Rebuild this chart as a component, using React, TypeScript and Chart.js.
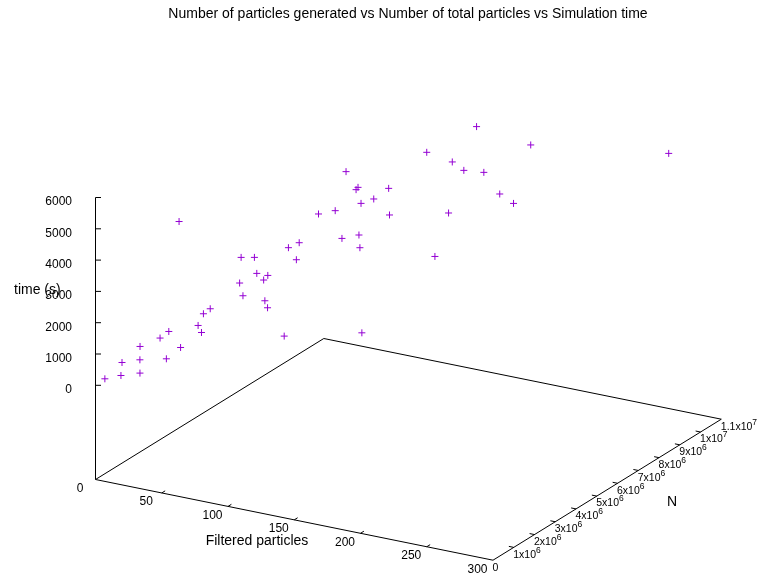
import React, { useEffect, useRef } from "react";
import { Chart, registerables } from "chart.js";

Chart.register(...registerables);

const TITLE = "Number of particles generated vs Number of total particles vs Simulation time";
const X_LABEL = "Filtered particles";
const N_LABEL = "N";
const Z_LABEL = "time (s)";

// Filtered particles (x axis)
const filteredParticles = [
  3, 12, 7, 24, 18, 12, 21, 35, 24, 20, 39, 40, 46, 39, 41, 48, 38, 56, 46, 55,
  63, 73, 63, 78, 102, 64, 75, 69, 69, 78, 95, 68, 82, 83, 105, 112, 92, 152, 98, 103,
  116, 112, 165, 154, 133, 145, 133, 159, 179, 193, 177, 273,
];

// Total particles N (y axis)
const totalParticles = [
  260000, 460000, 830000, 610000, 990000, 1380000, 1770000, 1180000, 2000000, 2750000,
  1610000, 2390000, 2170000, 2710000, 2910000, 3880000, 4590000, 3530000, 4720000, 4260000,
  4080000, 3500000, 4280000, 3310000, 2580000, 5210000, 4890000, 5410000, 6340000, 6570000,
  5810000, 7730000, 7320000, 7350000, 5990000, 5590000, 6920000, 3130000, 7150000, 7550000,
  6760000, 8810000, 5820000, 7180000, 8700000, 8490000, 9870000, 8560000, 8050000, 7820000,
  9670000, 10190000,
];

// Simulation time in seconds (z axis)
const simTime = [
  127, 228, 449, 346, 564, 779, 965, 664, 1107, 4278, 884, 1277, 1194, 1511, 1606, 2091,
  2533, 1897, 2549, 2303, 2234, 1895, 2299, 1792, 1392, 2813, 2654, 2933, 3470, 3559, 3130,
  4245, 3958, 4027, 3251, 3069, 3769, 1701, 3867, 4085, 3670, 4798, 3151, 3888, 4716, 4636,
  5366, 4664, 4354, 4267, 5240, 5582,
];

const xTicks = [0, 50, 100, 150, 200, 250, 300];
const nTicks = [0, 1e6, 2e6, 3e6, 4e6, 5e6, 6e6, 7e6, 8e6, 9e6, 1e7, 1.1e7];
const nTickLabels = [
  "0", "1x10^6", "2x10^6", "3x10^6", "4x10^6", "5x10^6", "6x10^6", "7x10^6", "8x10^6",
  "9x10^6", "1x10^7", "1.1x10^7",
];
const zTicks = [0, 1000, 2000, 3000, 4000, 5000, 6000];

const X_MAX = 300;
const N_MAX = 1.1e7;
const Z_MAX = 6000;

// View geometry (pixels of the 761x578 page)
const VIEW = {
  ox: 95.5, oy: 479.5,
  xdx: 397.5, xdy: 80.7,
  ndx: 228.3, ndy: -141,
  zLift: 94.2, zSpan: 187.8,
};

const W = 761;
const H = 578;
const FONT = '"Liberation Sans", Arial, sans-serif';
const POINT_COLOR = "#9400d3";

function basePoint(x: number, n: number) {
  const u = x / X_MAX;
  const v = n / N_MAX;
  return { x: VIEW.ox + u * VIEW.xdx + v * VIEW.ndx, y: VIEW.oy + u * VIEW.xdy + v * VIEW.ndy };
}

function project(x: number, n: number, z: number) {
  const b = basePoint(x, n);
  return { x: b.x, y: b.y - VIEW.zLift - (z / Z_MAX) * VIEW.zSpan };
}

function drawSupLabel(ctx: CanvasRenderingContext2D, label: string, x: number, y: number) {
  const parts = label.split("^");
  ctx.font = `10.5px ${FONT}`;
  ctx.textAlign = "left";
  ctx.textBaseline = "middle";
  ctx.fillText(parts[0], x, y);
  if (parts.length > 1) {
    const w = ctx.measureText(parts[0]).width;
    ctx.font = `8.5px ${FONT}`;
    ctx.fillText(parts[1], x + w, y - 4.5);
  }
}

const gnuplotFrame = {
  id: "gnuplotFrame",
  beforeDatasetsDraw(chart: any) {
    const ctx: CanvasRenderingContext2D = chart.ctx;
    const sx = chart.scales.x;
    const sy = chart.scales.y;
    const px = (p: { x: number; y: number }) => [sx.getPixelForValue(p.x), sy.getPixelForValue(p.y)];

    ctx.save();
    ctx.strokeStyle = "#000";
    ctx.lineWidth = 1;
    ctx.fillStyle = "#000";

    // base box
    const corners = [basePoint(0, 0), basePoint(X_MAX, 0), basePoint(X_MAX, N_MAX), basePoint(0, N_MAX)];
    ctx.beginPath();
    corners.forEach((c, i) => {
      const [a, b] = px(c);
      if (i === 0) ctx.moveTo(a, b);
      else ctx.lineTo(a, b);
    });
    ctx.closePath();
    ctx.stroke();

    // z axis
    const zb = px(basePoint(0, 0));
    const zt = px(project(0, 0, Z_MAX));
    ctx.beginPath();
    ctx.moveTo(zb[0], zb[1]);
    ctx.lineTo(zt[0], zt[1]);
    ctx.stroke();

    // z ticks + labels
    ctx.font = `12px ${FONT}`;
    zTicks.forEach((z) => {
      const [a, b] = px(project(0, 0, z));
      ctx.beginPath();
      ctx.moveTo(a, b);
      ctx.lineTo(a + 5.5, b);
      ctx.stroke();
      ctx.textAlign = "right";
      ctx.textBaseline = "middle";
      ctx.fillText(String(z), a - 23.5, b + 4.5);
    });

    // x ticks + labels
    const nlen = Math.hypot(VIEW.ndx, VIEW.ndy);
    const nux = VIEW.ndx / nlen, nuy = VIEW.ndy / nlen;
    xTicks.forEach((x) => {
      const [a, b] = px(basePoint(x, 0));
      if (x > 0 && x < X_MAX) {
        ctx.beginPath();
        ctx.moveTo(a, b);
        ctx.lineTo(a + nux * 4, b + nuy * 4);
        ctx.stroke();
      }
      ctx.textAlign = "center";
      ctx.textBaseline = "middle";
      ctx.font = `12px ${FONT}`;
      ctx.fillText(String(x), a - 15.5, b + 9);
    });

    // N ticks + labels
    const xlen = Math.hypot(VIEW.xdx, VIEW.xdy);
    const xux = VIEW.xdx / xlen, xuy = VIEW.xdy / xlen;
    nTicks.forEach((n, i) => {
      const [a, b] = px(basePoint(X_MAX, n));
      if (n > 0 && n < N_MAX) {
        ctx.beginPath();
        ctx.moveTo(a, b);
        ctx.lineTo(a - xux * 5, b - xuy * 5);
        ctx.stroke();
      }
      drawSupLabel(ctx, nTickLabels[i], a - 0.5, b + 7.5);
    });

    // axis titles
    ctx.font = `14px ${FONT}`;
    ctx.textBaseline = "middle";
    ctx.textAlign = "center";
    ctx.fillText(TITLE, 408, 14);
    ctx.fillText(X_LABEL, 257, 541);
    ctx.fillText(N_LABEL, 672, 502);
    ctx.textAlign = "left";
    ctx.fillText(Z_LABEL, 14, 290);

    ctx.restore();
  },
};

export default function App() {
  const canvasRef = useRef<HTMLCanvasElement | null>(null);

  useEffect(() => {
    const canvas = canvasRef.current;
    if (!canvas) return;
    const points = filteredParticles.map((x, i) => project(x, totalParticles[i], simTime[i]));
    const chart = new Chart(canvas, {
      type: "scatter",
      data: {
        datasets: [
          {
            label: "time",
            data: points,
            pointStyle: "cross",
            pointRadius: 3.5,
            pointHoverRadius: 3.5,
            borderWidth: 1,
            borderColor: POINT_COLOR,
            backgroundColor: POINT_COLOR,
          },
        ],
      },
      options: {
        responsive: false,
        animation: false,
        events: [],
        layout: { padding: 0, autoPadding: false },
        scales: {
          x: { type: "linear", min: 0, max: W, display: false },
          y: { type: "linear", min: 0, max: H, reverse: true, display: false },
        },
        plugins: {
          legend: { display: false },
          tooltip: { enabled: false },
          title: { display: false },
        },
      },
      plugins: [gnuplotFrame],
    });
    return () => chart.destroy();
  }, []);

  return (
    <div style={{ position: "fixed", left: 0, top: 0, width: W, height: H, background: "#fff" }}>
      <canvas ref={canvasRef} width={W} height={H} />
    </div>
  );
}
